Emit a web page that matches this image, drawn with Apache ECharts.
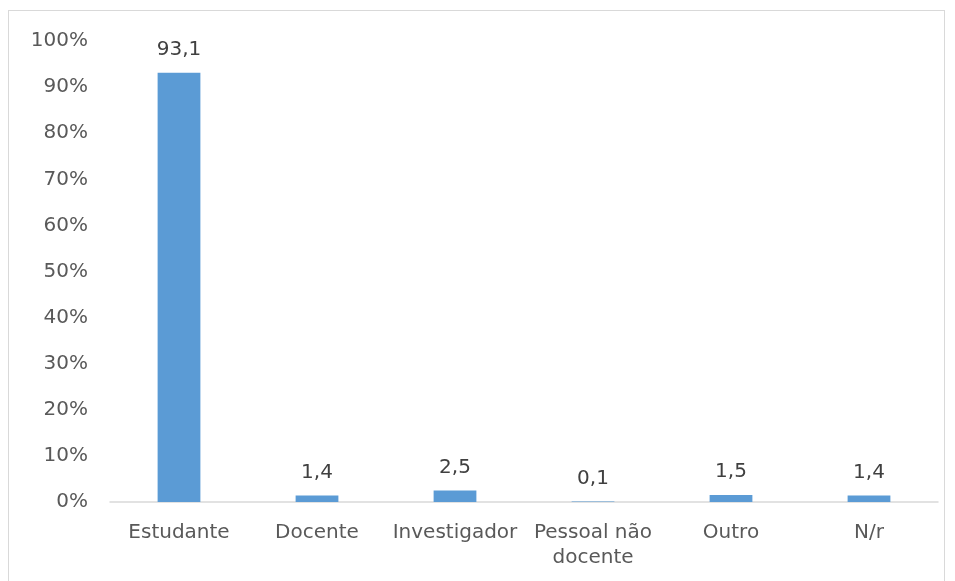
<!DOCTYPE html>
<html>
<head>
<meta charset="utf-8">
<script src="https://cdn.jsdelivr.net/npm/echarts@6/dist/echarts.min.js"></script>
<style>
    body { margin: 0; background: #fff; }
    #frame { position: absolute; left: 8px; top: 10px; width: 937px; height: 600px; border: 1px solid #d9d9d9; box-sizing: border-box; }
    #chart { position: absolute; left: 0; top: 0; width: 955px; height: 581px; }
</style>
</head>
<body>
<div id="frame"></div>
<div id="chart"></div>
<script>

var categories = ['Estudante', 'Docente', 'Investigador', 'Pessoal não\ndocente', 'Outro', 'N/r'];
var values = [93.1, 1.4, 2.5, 0.1, 1.5, 1.4];
var yTicks = [0, 10, 20, 30, 40, 50, 60, 70, 80, 90, 100];

var chart = echarts.init(document.getElementById('chart'));

var option = {
    animation: false,
    textStyle: { fontFamily: 'DejaVu Sans' },
    grid: { left: 110, right: 17, top: 41, bottom: 79 },
    xAxis: {
        type: 'category',
        data: categories,
        axisLine: { lineStyle: { color: '#d9d9d9', width: 1.5 } },
        axisTick: { show: false },
        axisLabel: { color: '#595959', fontSize: 20, margin: 18, lineHeight: 25, interval: 0 }
    },
    yAxis: {
        type: 'value',
        min: yTicks[0],
        max: yTicks[yTicks.length - 1],
        interval: 10,
        splitLine: { show: false },
        axisLine: { show: false },
        axisTick: { show: false },
        axisLabel: { color: '#595959', fontSize: 20, margin: 22, formatter: '{value}%' }
    },
    series: [
        {
            type: 'bar',
            data: values,
            barWidth: '31%',
            itemStyle: { color: '#5b9bd5' },
            label: {
                show: true,
                position: 'top',
                distance: 13,
                color: '#404040',
                fontSize: 20,
                formatter: function (p) { return String(p.value).replace('.', ','); }
            }
        }
    ]
};

chart.setOption(option);
</script>
</body>
</html>
